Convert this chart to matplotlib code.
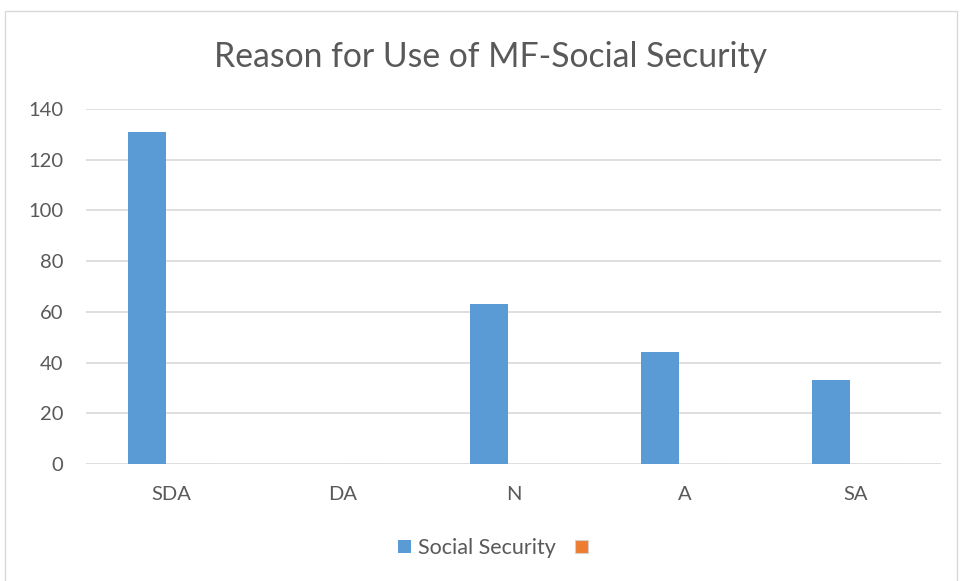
import matplotlib.pyplot as plt
from matplotlib.patches import Rectangle
import numpy as np

categories = ["SDA", "DA", "N", "A", "SA"]
social_security = [131, 0, 63, 44, 33]
second_series = [0, 0, 0, 0, 0]
y_ticks = [0, 20, 40, 60, 80, 100, 120, 140]

plt.rcParams['font.family'] = ['Lato', 'DejaVu Sans']

W, H = 960, 581
fig = plt.figure(figsize=(W / 100, H / 100), dpi=100)

# chart frame (open at the bottom edge of the image)
fig.patches.append(Rectangle((5 / W, -0.05), 952 / W, (H - 11) / H + 0.05, transform=fig.transFigure,
                             fill=False, edgecolor='#d9d9d9', linewidth=1))

ax = fig.add_axes([86 / W, (H - 464) / H, (941 - 86) / W, (464 - 109) / H])

x = np.arange(len(categories))
bw = 38 / 171
off = 24.5 / 171
ax.bar(x - off, social_security, width=bw, color='#5b9bd5', label='Social Security', zorder=3)
ax.bar(x + off, second_series, width=bw, color='#ed7d31', edgecolor='#d9cfc8', linewidth=0.8,
       label=' ', zorder=3)

ax.set_xlim(-0.5, len(categories) - 0.5)
ax.set_ylim(0, 140)
ax.set_yticks(y_ticks)
ax.set_xticks(x)
ax.set_xticklabels(categories)
ax.tick_params(axis='both', length=0, labelsize=14.5, colors='#595959')
ax.tick_params(axis='y', pad=16.5)
ax.tick_params(axis='x', pad=16)
ax.grid(axis='y', color='#d9d9d9', linewidth=1.2, zorder=0)
for s in ax.spines.values():
    s.set_visible(False)

fig.text(491 / W, 1 - 57 / H, "Reason for Use of MF-Social Security", ha='center', va='center',
         fontsize=24.3, color='#595959')

leg = fig.legend(loc='center', bbox_to_anchor=(499 / W, 1 - 548 / H), ncol=2, frameon=False,
                 fontsize=15.5, handlelength=0.6, handleheight=0.6, handletextpad=0.3,
                 columnspacing=0.9, labelcolor='#595959')

fig.savefig("out.png", dpi=100, facecolor='white')
